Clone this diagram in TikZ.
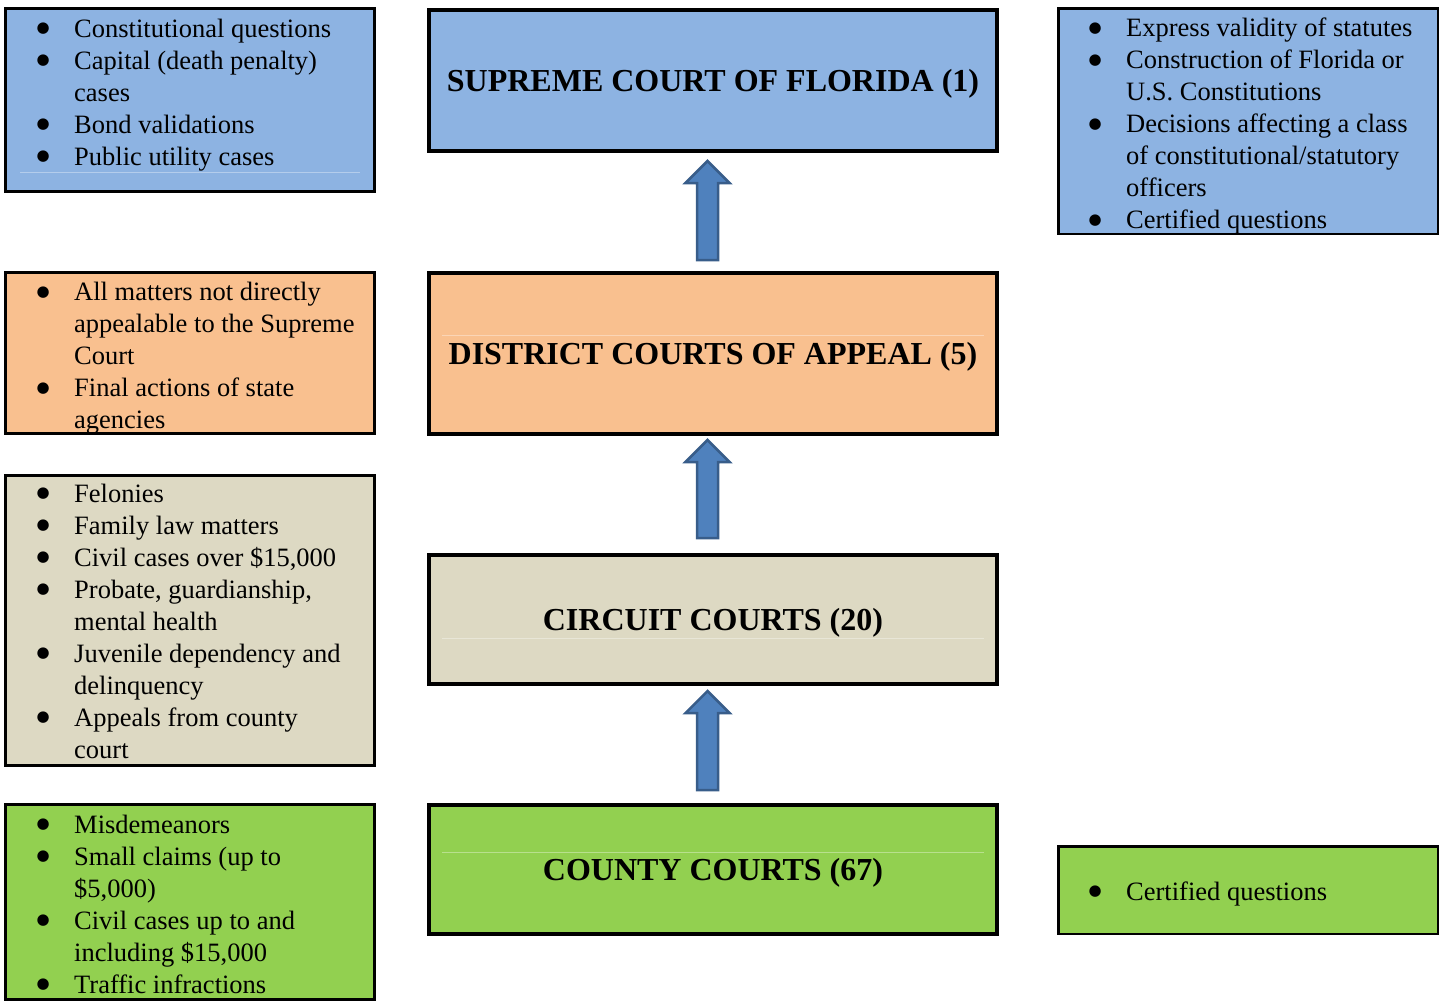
\documentclass[tikz,border=0pt]{standalone}
\usepackage{fontspec}
\setmainfont{Liberation Serif}
\newfontfamily\dotfont{DejaVu Sans}
\usetikzlibrary{calc}
\definecolor{courtblue}{HTML}{8DB3E2}
\definecolor{courtorange}{HTML}{F9C08F}
\definecolor{courtbeige}{HTML}{DDD9C3}
\definecolor{courtgreen}{HTML}{92D050}
\definecolor{arrowfill}{HTML}{4F81BD}
\definecolor{arrowline}{HTML}{385D8A}
\newcommand\bul{\makebox[35pt][l]{\hspace{-2.5pt}\raisebox{4.5pt}{\dotfont\fontsize{15}{15}\selectfont ●}}}
\newcommand\cont{\hspace*{35pt}}
\newcommand\UpArrow[2]{% #1 tail, #2 tip
    \draw[blockarrow] ($(#1)+(-10.5,0)$) -- ($(#2)+(-10.5,22)$) -- ($(#2)+(-22,22)$)
        -- (#2) -- ($(#2)+(22,22)$) -- ($(#2)+(10.5,22)$) -- ($(#1)+(10.5,0)$) -- cycle;
}
\begin{document}
\begin{tikzpicture}[x=1pt,y=-1pt,
    court/.style={draw, line width=4pt, minimum width=568pt, text height=21pt, text depth=0pt,
        font=\fontsize{32}{38}\selectfont\bfseries},
    listbox/.style={draw, line width=3pt, minimum width=369pt},
    sidebox/.style={draw, line width=2.5pt, minimum width=379.5pt},
    listtext/.style={anchor=base west, inner sep=0pt, font=\fontsize{26.5}{32}\selectfont},
    blockarrow/.style={fill=arrowfill, draw=arrowline, line width=2.5pt, line join=miter},
    faint/.style={white, opacity=0.35, line width=1pt}]
    \useasboundingbox (0,0) rectangle (1440,1004);

    % courts
    \node[court, fill=courtblue, minimum height=141pt] (supreme) at (713,80.5) {SUPREME COURT OF FLORIDA (1)};
    \node[court, fill=courtorange, minimum height=161pt] (district) at (713,353.5) {DISTRICT COURTS OF APPEAL (5)};
    \node[court, fill=courtbeige, minimum height=129pt] (circuit) at (713,619.5) {CIRCUIT COURTS (20)};
    \node[court, fill=courtgreen, minimum height=129pt] (county) at (713,869.5) {COUNTY COURTS (67)};
    \draw[faint] (442,335) -- (984,335);
    \draw[faint] (442,638) -- (984,638);
    \draw[faint] (442,852) -- (984,852);

    % appeals
    \coordinate (tip1) at ($(supreme.south)+(-5.5,8)$);
    \coordinate (tail1) at ($(district.north)+(-5.5,-11)$);
    \coordinate (tip2) at ($(district.south)+(-5.5,4)$);
    \coordinate (tail2) at ($(circuit.north)+(-5.5,-15)$);
    \coordinate (tip3) at ($(circuit.south)+(-5.5,5)$);
    \coordinate (tail3) at ($(county.north)+(-5.5,-13)$);
    \UpArrow{tail1}{tip1}
    \UpArrow{tail2}{tip2}
    \UpArrow{tail3}{tip3}

    % left lists
    \node[listbox, fill=courtblue, minimum height=183pt] (supremeBox) at (190,100) {};
    \draw[faint] (20,172) -- (360,172);
    \node[listtext] (supremeList) at (39,37) {\begin{tabular}[t]{@{}l@{}}
        \bul Constitutional questions\\
        \bul Capital (death penalty)\\
        \cont cases\\
        \bul Bond validations\\
        \bul Public utility cases
    \end{tabular}};
    \node[listbox, fill=courtorange, minimum height=161pt] (districtBox) at (190,353) {};
    \node[listtext] (districtList) at (39,300.5) {\begin{tabular}[t]{@{}l@{}}
        \bul All matters not directly\\
        \cont appealable to the Supreme\\
        \cont Court\\
        \bul Final actions of state\\
        \cont agencies
    \end{tabular}};
    \node[listbox, fill=courtbeige, minimum height=290pt] (circuitBox) at (190,620.5) {};
    \node[listtext] (circuitList) at (39,502) {\begin{tabular}[t]{@{}l@{}}
        \bul Felonies\\
        \bul Family law matters\\
        \bul Civil cases over \$15,000\\
        \bul Probate, guardianship,\\
        \cont mental health\\
        \bul Juvenile dependency and\\
        \cont delinquency\\
        \bul Appeals from county\\
        \cont court
    \end{tabular}};
    \node[listbox, fill=courtgreen, minimum height=195pt] (countyBox) at (190,902) {};
    \node[listtext] (countyList) at (39,833) {\begin{tabular}[t]{@{}l@{}}
        \bul Misdemeanors\\
        \bul Small claims (up to\\
        \cont \$5,000)\\
        \bul Civil cases up to and\\
        \cont including \$15,000\\
        \bul Traffic infractions
    \end{tabular}};

    % right lists
    \node[sidebox, fill=courtblue, minimum height=225.5pt] (discretionBox) at (1248,121) {};
    \node[listtext] (discretionList) at (1091,36.5) {\begin{tabular}[t]{@{}l@{}}
        \bul Express validity of statutes\\
        \bul Construction of Florida or\\
        \cont U.S. Constitutions\\
        \bul Decisions affecting a class\\
        \cont of constitutional/statutory\\
        \cont officers\\
        \bul Certified questions
    \end{tabular}};
    \node[sidebox, fill=courtgreen, minimum height=87.5pt] (certifiedBox) at (1248,890) {};
    \node[listtext] (certifiedList) at (1091,900) {\begin{tabular}[t]{@{}l@{}}
        \bul Certified questions
    \end{tabular}};
\end{tikzpicture}
\end{document}
